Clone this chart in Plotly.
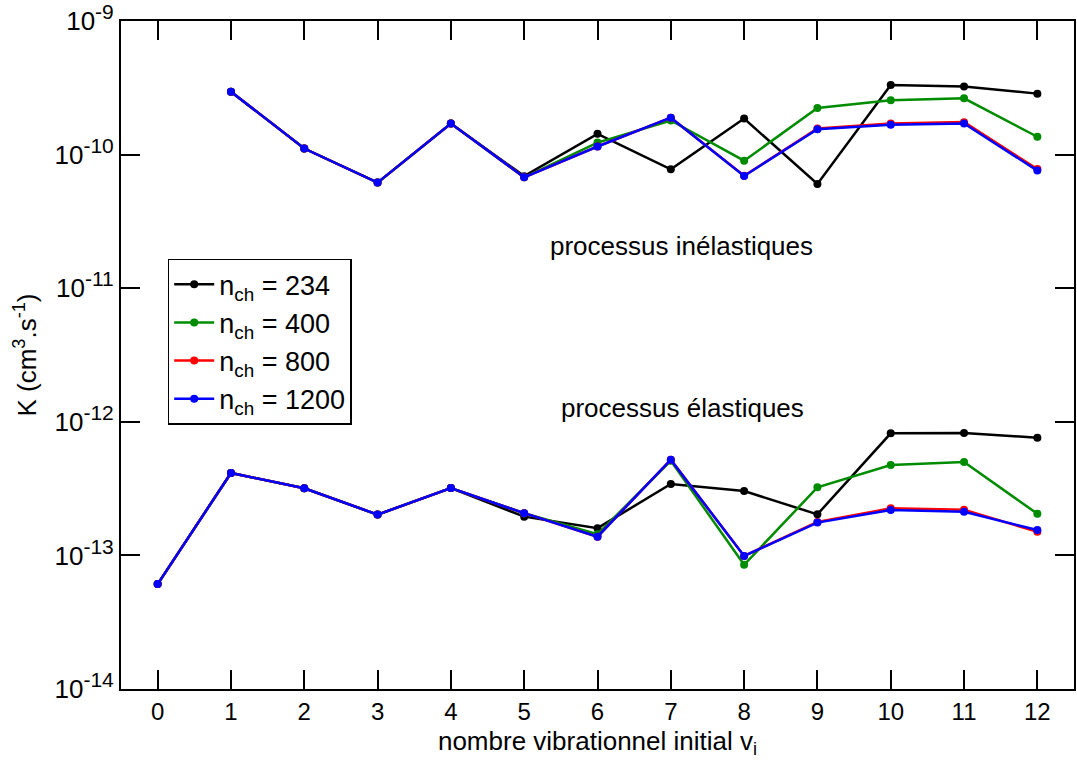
import plotly.graph_objects as go

v = list(range(13))

# inelastic rates (v0 absent)
inel_234 = [None, 2.96e-10, 1.11e-10, 6.17e-11, 1.71e-10, 6.9e-11, 1.43e-10, 7.76e-11, 1.86e-10, 6.03e-11, 3.32e-10, 3.23e-10, 2.86e-10]
inel_400 = [None, 2.96e-10, 1.11e-10, 6.17e-11, 1.71e-10, 6.76e-11, 1.23e-10, 1.80e-10, 9.0e-11, 2.23e-10, 2.55e-10, 2.64e-10, 1.36e-10]
inel_800 = [None, 2.96e-10, 1.11e-10, 6.17e-11, 1.71e-10, 6.76e-11, 1.15e-10, 1.89e-10, 6.95e-11, 1.57e-10, 1.71e-10, 1.75e-10, 7.8e-11]
inel_1200 = [None, 2.96e-10, 1.11e-10, 6.17e-11, 1.71e-10, 6.76e-11, 1.15e-10, 1.89e-10, 6.92e-11, 1.55e-10, 1.67e-10, 1.71e-10, 7.59e-11]

# elastic rates
el_234 = [6.1e-14, 4.14e-13, 3.18e-13, 2.02e-13, 3.19e-13, 1.95e-13, 1.60e-13, 3.42e-13, 3.03e-13, 2.03e-13, 8.2e-13, 8.26e-13, 7.6e-13]
el_400 = [6.1e-14, 4.14e-13, 3.18e-13, 2.02e-13, 3.19e-13, 2.07e-13, 1.44e-13, 5.1e-13, 8.5e-14, 3.23e-13, 4.75e-13, 5.0e-13, 2.05e-13]
el_800 = [6.1e-14, 4.14e-13, 3.18e-13, 2.02e-13, 3.19e-13, 2.07e-13, 1.38e-13, 5.2e-13, 9.9e-14, 1.78e-13, 2.25e-13, 2.2e-13, 1.50e-13]
el_1200 = [6.1e-14, 4.14e-13, 3.18e-13, 2.02e-13, 3.19e-13, 2.07e-13, 1.38e-13, 5.2e-13, 9.9e-14, 1.76e-13, 2.19e-13, 2.12e-13, 1.55e-13]

names = ["n<sub>ch</sub> = 234", "n<sub>ch</sub> = 400", "n<sub>ch</sub> = 800", "n<sub>ch</sub> = 1200"]
colors = ["#000000", "#008c00", "#ff0000", "#0000ff"]
inel = [inel_234, inel_400, inel_800, inel_1200]
el = [el_234, el_400, el_800, el_1200]

ytick_vals = [1e-14, 1e-13, 1e-12, 1e-11, 1e-10, 1e-9]
ytick_exps = ["-14", "-13", "-12", "-11", "-10", "-9"]
ytick_text = ['10<sup><span style="font-size:21px">%s</span></sup>' % e for e in ytick_exps]

FONT = "Liberation Sans, Arial, sans-serif"

fig = go.Figure()
for i in range(4):
    for j, data in enumerate([inel[i], el[i]]):
        fig.add_trace(go.Scatter(
            x=v, y=data, mode="lines+markers", name=names[i],
            legendgroup=names[i], showlegend=(j == 0),
            line=dict(color=colors[i], width=2.5),
            marker=dict(color=colors[i], size=8),
            connectgaps=False,
        ))

fig.add_annotation(x=7.14, y=-10.684, xref="x", yref="y", text="processus inélastiques",
                   showarrow=False, font=dict(size=26, color="black", family=FONT))
fig.add_annotation(x=7.16, y=-11.897, xref="x", yref="y", text="processus élastiques",
                   showarrow=False, font=dict(size=26, color="black", family=FONT))

fig.update_layout(
    width=1077, height=760,
    margin=dict(l=121, r=3, t=21, b=71),
    paper_bgcolor="white", plot_bgcolor="white",
    font=dict(family=FONT, size=24, color="black"),
    legend=dict(x=0.049, y=0.644, xanchor="left", yanchor="top",
                bordercolor="black", borderwidth=1.5, bgcolor="white",
                font=dict(size=27, family=FONT), tracegroupgap=0, itemwidth=40),
    xaxis=dict(range=[-0.5, 12.5], tickvals=v, ticks="inside", ticklen=19,
               tickwidth=1.5, tickcolor="black", showline=True, linecolor="black",
               linewidth=2, mirror="ticks", showgrid=False, zeroline=False,
               automargin=False,
               title=dict(text="nombre vibrationnel initial v<sub>i</sub>", standoff=8,
                          font=dict(size=26, family=FONT)),
               tickfont=dict(size=24, family=FONT)),
    yaxis=dict(type="log", range=[-14, -9], tickvals=ytick_vals, ticktext=ytick_text,
               ticks="inside", ticklen=19, tickwidth=1.5, tickcolor="black",
               showline=True, linecolor="black", linewidth=2, mirror="ticks",
               showgrid=False, zeroline=False, automargin=False,
               title=dict(text="K (cm<sup>3</sup>.s<sup>-1</sup>)", standoff=10,
                          font=dict(size=26, family=FONT)),
               tickfont=dict(size=26, family=FONT)),
)

fig.write_html("out.html", config={"displayModeBar": False},
               post_script="document.body.style.margin='0';document.body.style.overflow='hidden';")
